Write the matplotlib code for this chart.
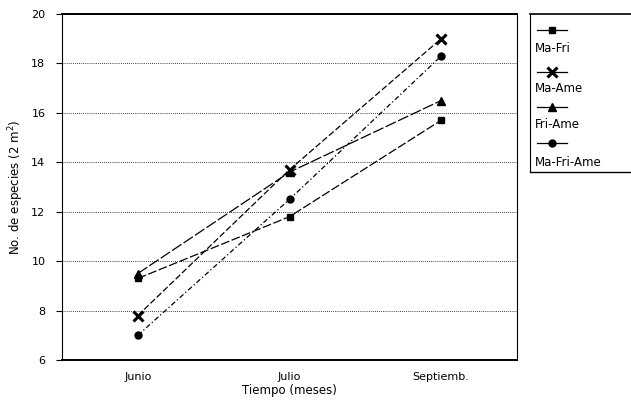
import matplotlib
matplotlib.use("Agg")
import matplotlib.pyplot as plt
from matplotlib.lines import Line2D

months = ["Junio", "Julio", "Septiemb."]
series_names = ["Ma-Fri", "Ma-Ame", "Fri-Ame", "Ma-Fri-Ame"]
ma_fri = [9.3, 11.8, 15.7]
ma_ame = [7.8, 13.7, 19.0]
fri_ame = [9.5, 13.6, 16.5]
ma_fri_ame = [7.0, 12.5, 18.3]
yticks = [6, 8, 10, 12, 14, 16, 18, 20]

plt.rcParams['font.family'] = ['DejaVu Sans']
fig = plt.figure(figsize=(6.31, 4.01), dpi=100)
ax = fig.add_axes([62/631, 41/401, 455/631, 346/401])

styles = [
    dict(marker='s', linestyle=(0, (7, 2)), markersize=5, markeredgewidth=1),
    dict(marker='x', linestyle=(0, (5, 2)), markersize=7, markeredgewidth=2.2),
    dict(marker='^', linestyle=(0, (9, 2)), markersize=6, markeredgewidth=1),
    dict(marker='o', linestyle=(0, (4, 2, 1, 2)), markersize=5, markeredgewidth=1),
]
data = [ma_fri, ma_ame, fri_ame, ma_fri_ame]
x = list(range(len(months)))
for vals, st, name in zip(data, styles, series_names):
    ax.plot(x, vals, color='black', linewidth=0.9, markeredgecolor='black',
            markerfacecolor='black', label=name, **st)

ax.set_xlim(-0.5, 2.5)
ax.set_ylim(6, 20)
ax.set_yticks(yticks)
ax.set_yticklabels([str(t) for t in yticks], fontsize=8)
ax.set_xticks(x)
ax.set_xticklabels(months, fontsize=8)
ax.tick_params(axis='x', length=0, pad=9)
ax.tick_params(axis='y', length=4, width=0.8, pad=8)
ax.yaxis.grid(True, linestyle=(0, (1, 1.5)), color='black', linewidth=0.6)
ax.set_axisbelow(True)
for s in ['top', 'bottom']:
    ax.spines[s].set_linewidth(1.4)
for s in ['left', 'right']:
    ax.spines[s].set_linestyle((0, (3, 1, 1, 1)))
    ax.spines[s].set_linewidth(0.8)
ax.set_xlabel("Tiempo (meses)", fontsize=8.5, labelpad=1)
ax.set_ylabel("No. de especies (2 m$^2$)", fontsize=8.5, labelpad=4)

# legend box
lax = fig.add_axes([530/631, (401-172)/401, 110/631, 158/401])
lax.set_xlim(0, 110)
lax.set_ylim(158, 0)
lax.set_xticks([])
lax.set_yticks([])
lax.spines['top'].set_linewidth(1.2)
lax.spines['bottom'].set_linewidth(1.0)
lax.spines['right'].set_visible(False)
lax.spines['left'].set_linestyle((0, (3, 1, 1, 1)))
lax.spines['left'].set_linewidth(0.8)
handle_y = [16, 58, 93, 129]
label_y = [34, 74, 110, 148]
for st, name, hy, ly in zip(styles, series_names, handle_y, label_y):
    lax.add_line(Line2D([7, 37], [hy, hy], color='black', linewidth=0.9,
                        linestyle='-'))
    lax.add_line(Line2D([22], [hy], marker=st['marker'], markersize=st['markersize'],
                        markeredgewidth=st['markeredgewidth'],
                        color='black', linestyle='none'))
    lax.text(5, ly, name, fontsize=8.5, va='center', ha='left')

fig.savefig("out.png", dpi=100)
